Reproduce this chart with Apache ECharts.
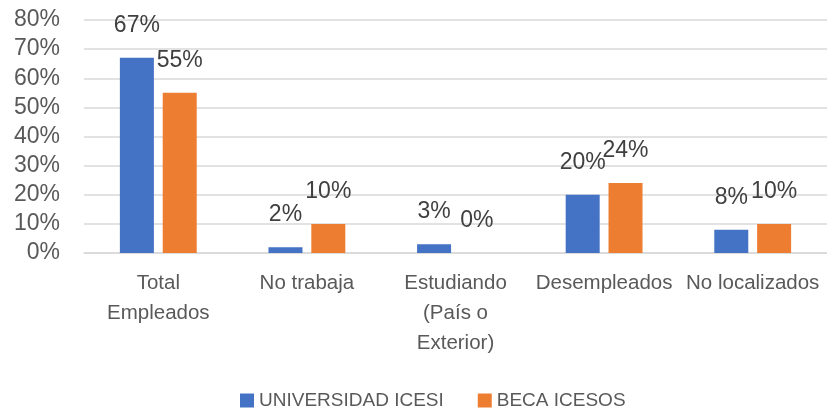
<!DOCTYPE html>
<html>
<head>
<meta charset="utf-8">
<script src="https://cdn.jsdelivr.net/npm/echarts@6/dist/echarts.min.js"></script>
<style>
  html, body { margin: 0; padding: 0; background: #fff; }
  #chart { width: 827px; height: 410px; }
</style>
</head>
<body>
<div id="chart"></div>
<script>
const categories = ['Total\nEmpleados', 'No trabaja', 'Estudiando\n(País o\nExterior)', 'Desempleados', 'No localizados']
const seriesNames = ['UNIVERSIDAD ICESI', 'BECA ICESOS']
const icesi = [67, 2, 3, 20, 8]
const beca = [55, 10, 0, 24, 10]
const colors = ['#4472C4', '#ED7D31']

const chart = echarts.init(document.getElementById('chart'))
const font = 'Liberation Sans, Arial, sans-serif'

const labelStyle = {
  show: true,
  position: 'top',
  distance: 21,
  formatter: '{c}%',
  fontFamily: font,
  fontSize: 23,
  color: '#404040'
}

chart.setOption({
  animation: false,
  textStyle: { fontFamily: font },
  grid: { left: 84, right: 0, top: 20, bottom: 157 },
  legend: {
    top: 391,
    left: 240,
    itemWidth: 14,
    itemHeight: 14,
    itemGap: 34,
    icon: 'rect',
    padding: 0,
    textStyle: { fontSize: 19, color: '#595959', fontFamily: font },
    data: seriesNames
  },
  xAxis: {
    type: 'category',
    data: categories,
    axisLine: { lineStyle: { color: '#d9d9d9', width: 1.5 } },
    axisTick: { show: false },
    axisLabel: {
      fontSize: 20.5,
      color: '#595959',
      lineHeight: 30,
      margin: 15,
      interval: 0
    }
  },
  yAxis: {
    type: 'value',
    min: 0,
    max: 80,
    interval: 10,
    axisLine: { show: false },
    axisTick: { show: false },
    splitLine: { lineStyle: { color: '#d9d9d9', width: 1.5 } },
    axisLabel: {
      formatter: '{value}%',
      fontSize: 23,
      color: '#595959',
      margin: 24
    }
  },
  series: [
    {
      name: seriesNames[0],
      type: 'bar',
      data: icesi,
      barWidth: 34,
      barGap: '26%',
      itemStyle: { color: colors[0] },
      label: labelStyle
    },
    {
      name: seriesNames[1],
      type: 'bar',
      data: beca,
      barWidth: 34,
      barGap: '26%',
      itemStyle: { color: colors[1] },
      label: labelStyle
    }
  ]
})
</script>
</body>
</html>
